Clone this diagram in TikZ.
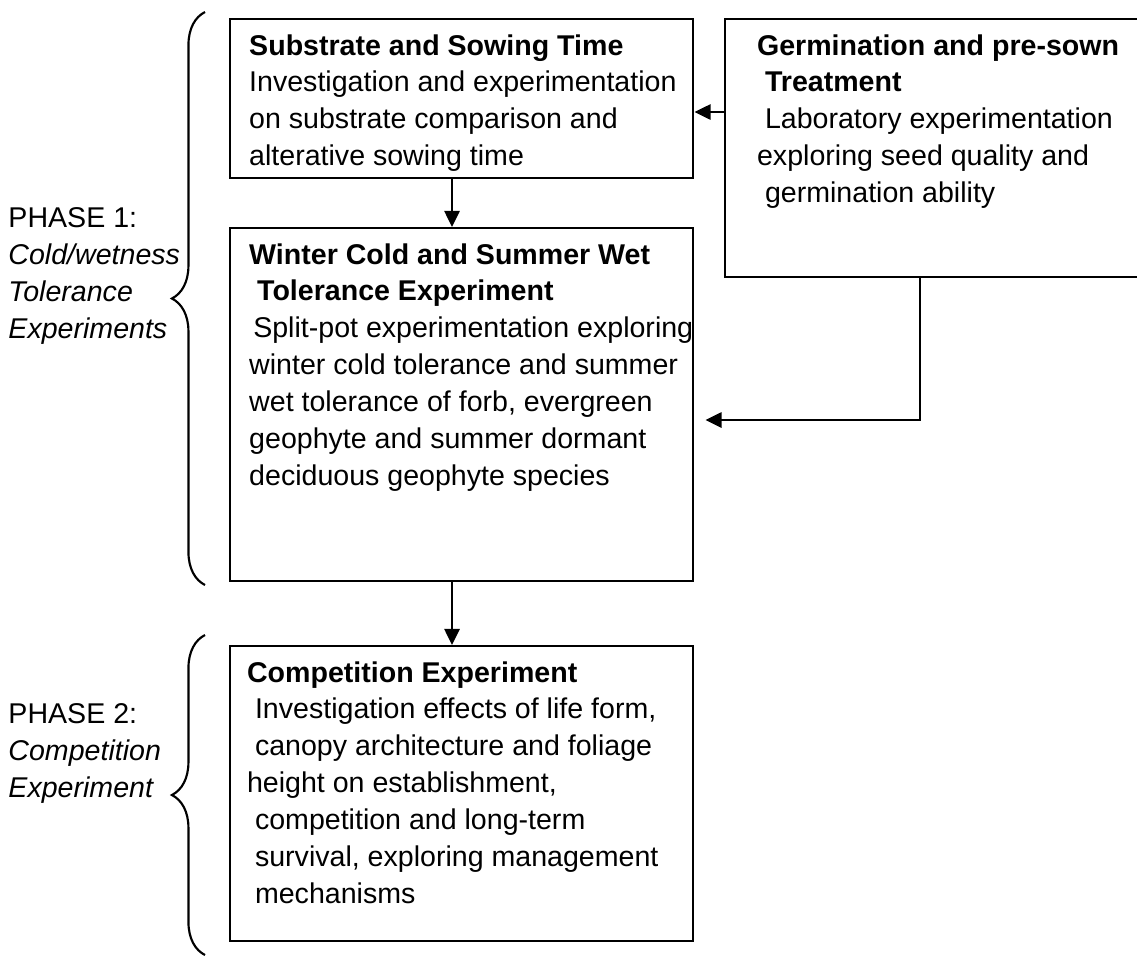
\documentclass[tikz,border=0pt]{standalone}
\usepackage{fontspec}
\setmainfont{Liberation Sans}
\usetikzlibrary{arrows.meta,decorations.pathreplacing}
\newcommand{\lsp}{\hspace*{0.278em}}

\begin{document}
\begin{tikzpicture}[x=0.42pt,y=-0.42pt,
	box/.style={draw,line width=1pt,anchor=north west,inner xsep=0pt,inner ysep=4.2pt,font=\fontsize{12}{15.5}\selectfont},
	lab/.style={anchor=north west,inner sep=0pt,align=left,font=\fontsize{12}{15.6}\selectfont},
	arr/.style={line width=1pt,-{Triangle[length=6.8pt,width=6.4pt]}},
	brc/.style={line width=0.9pt,decorate,decoration={brace,amplitude=13.9pt}}]
	\useasboundingbox (0,0) rectangle (1137,957);

	% phase 1
	\node[box] (subst) at (229,18) {\parbox[t][58.4pt][t]{194.5pt}{\leftskip=8pt\strut
		\textbf{Substrate and Sowing Time}\\
		Investigation and experimentation\\
		on substrate comparison and\\
		alterative sowing time}};
	\node[box] (germ) at (724,18) {\parbox[t][100pt][t]{190pt}{\leftskip=13.4pt\strut
		\textbf{Germination and pre-sown}\\
		\lsp\textbf{Treatment}\\
		\lsp Laboratory experimentation\\
		exploring seed quality and\\
		\lsp germination ability}};
	\node[box] (winter) at (229,227) {\parbox[t][139.9pt][t]{194.5pt}{\leftskip=8pt\strut
		\textbf{Winter Cold and Summer Wet}\\
		\lsp\textbf{Tolerance Experiment}\\
		\hspace*{1.7pt}Split-pot experimentation exploring\\
		winter cold tolerance and summer\\
		wet tolerance of forb, evergreen\\
		geophyte and summer dormant\\
		deciduous geophyte species}};

	% phase 2
	\node[box] (compet) at (229,645) {\parbox[t][115.5pt][t]{194.5pt}{\leftskip=7.1pt\strut
		\textbf{Competition Experiment}\\
		\lsp Investigation effects of life form,\\
		\lsp canopy architecture and foliage\\
		height on establishment,\\
		\lsp competition and long-term\\
		\lsp survival, exploring management\\
		\lsp mechanisms}};

	\node[lab] (ph1) at (8,201) {\strut PHASE 1:\\ \textit{Cold/wetness}\\ \textit{Tolerance}\\ \textit{Experiments}};
	\node[lab] (ph2) at (8,697) {\strut PHASE 2:\\ \textit{Competition}\\ \textit{Experiment}};

	\draw[brc] (205,585) -- (205,12);
	\draw[brc] (205,955) -- (205,635);

	\coordinate (axis) at (452,0);
	\coordinate (feed) at (0,112);
	\coordinate (bend) at (920,420);
	\draw[arr] (subst.south -| axis) -- (winter.north -| axis);
	\draw[arr] (winter.south -| axis) -- (compet.north -| axis);
	\draw[arr] (germ.west |- feed) -- (subst.east |- feed);
	\draw[arr,shorten >=4.6pt] (germ.south -| bend) |- (winter.east |- bend);

\end{tikzpicture}
\end{document}
